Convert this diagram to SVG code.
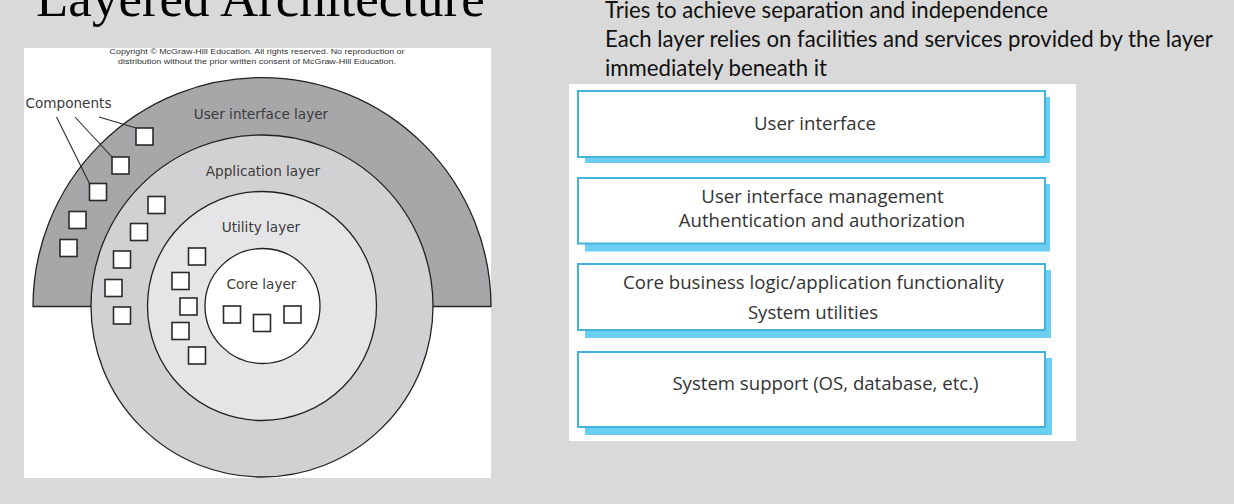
<svg xmlns="http://www.w3.org/2000/svg" width="1234" height="504" viewBox="0 0 1234 504">
  <defs>
    <style>
      .title { font-family: "Liberation Serif", "Times New Roman", serif; font-size: 53px; fill: #000; }
      .bullet { font-family: Lato, "Liberation Sans", sans-serif; font-size: 22.2px; fill: #111; }
      .copy { font-family: "Liberation Sans", Arial, sans-serif; font-size: 8px; fill: #333; }
      .lbl { font-family: "DejaVu Sans", "Liberation Sans", sans-serif; font-size: 13.6px; fill: #3a3a3a; text-anchor: middle; }
      .ring { stroke: #222; stroke-width: 1.3; }
      .comp { fill: #fff; stroke: #2a2a2a; stroke-width: 1.6; }
      .lead { stroke: #2a2a2a; stroke-width: 1.1; fill: none; }
      .shadow { fill: #6ccff1; }
      .box { fill: #fff; stroke: #42b4dc; stroke-width: 2; }
      .btxt { font-family: "Open Sans", "Noto Sans", sans-serif; font-size: 18.6px; fill: #333; text-anchor: middle; }
    </style>
    <symbol id="sq" viewBox="0 0 17 17" overflow="visible">
      <rect x="0" y="0" width="17" height="17" class="comp"/>
    </symbol>
  </defs>

  <rect x="0" y="0" width="1234" height="504" fill="#d9d9d9"/>

  <text class="title" x="36" y="16">Layered Architecture</text>

  <g id="bullets">
    <text class="bullet" x="605" y="18">Tries to achieve separation and independence</text>
    <text class="bullet" x="605" y="47">Each layer relies on facilities and services provided by the layer</text>
    <text class="bullet" x="605" y="76">immediately beneath it</text>
  </g>

  <!-- Left picture -->
  <g id="left-figure">
    <rect x="24" y="48" width="467" height="430" fill="#fff"/>
    <text class="copy" x="257" y="54" text-anchor="middle" textLength="295" lengthAdjust="spacingAndGlyphs">Copyright © McGraw-Hill Education. All rights reserved. No reproduction or</text>
    <text class="copy" x="257" y="64" text-anchor="middle" textLength="278" lengthAdjust="spacingAndGlyphs">distribution without the prior written consent of McGraw-Hill Education.</text>

    <g id="ui-layer">
      <path class="ring" d="M 33 306.5 A 229 229 0 0 1 491 306.5 Z" fill="#a7a7a9"/>
      <text class="lbl" x="261" y="119">User interface layer</text>
      <use href="#sq" x="136" y="128" width="17" height="17"/>
      <use href="#sq" x="112" y="157" width="17" height="17"/>
      <use href="#sq" x="89.5" y="183.5" width="17" height="17"/>
      <use href="#sq" x="69" y="211.5" width="17" height="17"/>
      <use href="#sq" x="60" y="239.5" width="17" height="17"/>
    </g>

    <g id="application-layer">
      <circle class="ring" cx="262" cy="306" r="171" fill="#d1d1d3"/>
      <text class="lbl" x="263" y="175.5">Application layer</text>
      <use href="#sq" x="148" y="196.5" width="17" height="17"/>
      <use href="#sq" x="130.5" y="223.5" width="17" height="17"/>
      <use href="#sq" x="113.5" y="251" width="17" height="17"/>
      <use href="#sq" x="105" y="279.5" width="17" height="17"/>
      <use href="#sq" x="113.5" y="307" width="17" height="17"/>
    </g>

    <g id="utility-layer">
      <circle class="ring" cx="262" cy="306" r="114.5" fill="#e5e5e7"/>
      <text class="lbl" x="261" y="232">Utility layer</text>
      <use href="#sq" x="188.5" y="248" width="17" height="17"/>
      <use href="#sq" x="172" y="272.5" width="17" height="17"/>
      <use href="#sq" x="180" y="298" width="17" height="17"/>
      <use href="#sq" x="172" y="322.5" width="17" height="17"/>
      <use href="#sq" x="188.5" y="347" width="17" height="17"/>
    </g>

    <g id="core-layer">
      <circle class="ring" cx="262.5" cy="306" r="57.5" fill="#fff"/>
      <text class="lbl" x="261.5" y="289">Core layer</text>
      <use href="#sq" x="223.5" y="306" width="17" height="17"/>
      <use href="#sq" x="253.5" y="314.5" width="17" height="17"/>
      <use href="#sq" x="284" y="306" width="17" height="17"/>
    </g>

    <g id="components-label">
      <text class="lbl" x="68.5" y="108">Components</text>
    </g>

    <g id="connectors">
      <line class="lead" x1="56.5" y1="117" x2="89.5" y2="183.5"/>
      <line class="lead" x1="75" y1="117" x2="112" y2="157"/>
      <line class="lead" x1="99" y1="117" x2="136" y2="128"/>
    </g>
  </g>

  <!-- Right picture -->
  <g id="right-figure">
    <rect x="569" y="84" width="507" height="357" fill="#fff"/>

    <g id="box-ui">
      <rect class="shadow" x="585" y="97" width="465" height="66"/>
      <rect class="box" x="578" y="91" width="467" height="66"/>
      <text class="btxt" x="815" y="129.5">User interface</text>
    </g>

    <g id="box-uim">
      <rect class="shadow" x="585" y="184" width="465" height="67.5"/>
      <rect class="box" x="578" y="178" width="467" height="65.5"/>
      <text class="btxt" x="822.5" y="202.5">User interface management</text>
      <text class="btxt" x="822" y="226.5">Authentication and authorization</text>
    </g>

    <g id="box-core">
      <rect class="shadow" x="585" y="270" width="466" height="68"/>
      <rect class="box" x="578" y="264" width="467" height="66"/>
      <text class="btxt" x="813.5" y="288.5">Core business logic/application functionality</text>
      <text class="btxt" x="813" y="318.5">System utilities</text>
    </g>

    <g id="box-sys">
      <rect class="shadow" x="585" y="358" width="467" height="77"/>
      <rect class="box" x="578" y="352" width="467" height="75"/>
      <text class="btxt" x="825.5" y="390">System support (OS, database, etc.)</text>
    </g>
  </g>
</svg>
